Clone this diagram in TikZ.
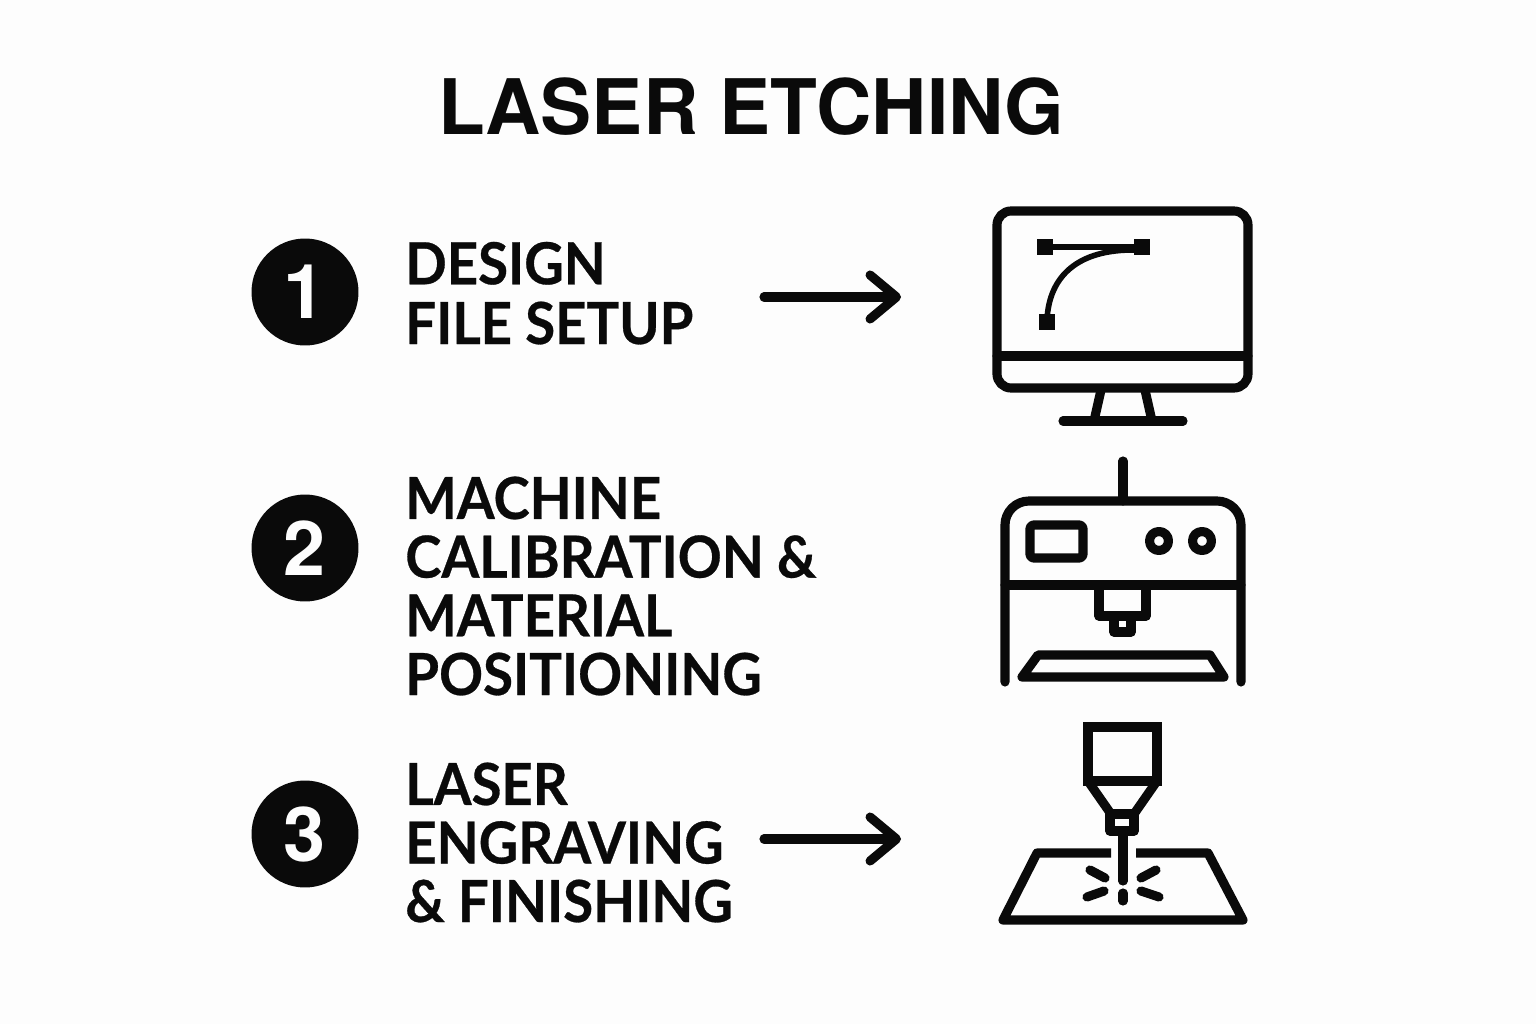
\documentclass[tikz,border=0pt]{standalone}
\usepackage{fontspec}
\setmainfont{TeX Gyre Heros}
\newfontfamily\stepfont[FakeStretch=0.94,FakeBold=0.5]{Lato}
\usetikzlibrary{arrows.meta}
\definecolor{inkblack}{HTML}{0A0A0A}
\definecolor{paper}{HTML}{FDFDFD}
\tikzset{
  stepnum/.style={circle,fill=inkblack,text=paper,minimum size=21.4mm,inner sep=0pt,font=\fontsize{43}{43}\selectfont\bfseries},
  steptext/.style={anchor=base west,align=left,inner sep=0pt,text=inkblack},
  flowarrow/.style={draw=inkblack,line width=5.2pt,line cap=round,-{Straight Barb[length=15pt,width=25pt,line cap=round,round]}},
  icon/.style={draw=inkblack,line width=5.2pt,line join=round,line cap=round},
  thinicon/.style={draw=inkblack,line width=3.2pt,line cap=butt},
  handle/.style={fill=inkblack,draw=none}
}
\begin{document}
\begin{tikzpicture}[x=0.02cm,y=0.02cm]
\useasboundingbox [fill=paper] (0,0) rectangle (1536,-1024);
\node (title) [anchor=base,text=inkblack,inner sep=0pt,font=\fontsize{43.6}{45}\selectfont\bfseries] at (751,-134) {LASER ETCHING};
\node (num1) [stepnum] at (305,-292) {1};
\node (num2) [stepnum] at (305,-548) {2};
\node (num3) [stepnum] at (305,-834) {3};
\node (text1) [steptext,font=\stepfont\fontsize{33}{34}\selectfont\bfseries] at (405,-344) {DESIGN\\FILE SETUP};
\node (text2) [steptext,font=\stepfont\fontsize{33}{33.4}\selectfont\bfseries] at (405,-695) {MACHINE\\CALIBRATION \&\\MATERIAL\\POSITIONING};
\node (text3) [steptext,font=\stepfont\fontsize{33}{33.3}\selectfont\bfseries] at (405,-922) {LASER\\ENGRAVING\\\& FINISHING};
\coordinate (arrow1a) at (764,-297);
\coordinate (arrow1b) at (901,-297);
\coordinate (arrow3a) at (764,-839);
\coordinate (arrow3b) at (901,-839);
\draw [flowarrow] (arrow1a) -- (arrow1b);
\draw [flowarrow] (arrow3a) -- (arrow3b);
% monitor
\draw [icon] (997,-211) [rounded corners=8pt] rectangle (1248,-388);
\draw [icon] (997,-356) -- (1248,-356);
\draw [icon,line cap=butt] (1101,-390) -- (1094,-421);
\draw [icon,line cap=butt] (1145,-390) -- (1152,-421);
\draw [icon] (1063,-421) -- (1183,-421);
\draw [thinicon] (1045,-247) -- (1142,-247);
\draw [thinicon] (1047,-320) .. controls (1049,-276) and (1078,-249) .. (1136,-250);
\fill [handle] (1037,-239) rectangle (1053,-255);
\fill [handle] (1134,-239) rectangle (1150,-255);
\fill [handle] (1039,-314) rectangle (1055,-330);
% machine
\draw [icon] (1005,-682) -- (1005,-525) arc (180:90:24) -- (1217,-501) arc (90:0:24) -- (1241,-682);
\draw [icon] (1123,-461) -- (1123,-501);
\draw [icon] (1005,-585) -- (1241,-585);
\draw [icon] (1030,-525) [rounded corners=2pt] rectangle (1083,-558);
\draw [icon] (1159,-541) circle (9.5);
\draw [icon] (1202,-541) circle (9.5);
\draw [icon] (1099,-585) -- (1099,-616) -- (1146,-616) -- (1146,-585);
\draw [icon] (1114,-616) -- (1114,-632) -- (1131,-632) -- (1131,-616);
\draw [icon] (1038,-655) -- (1210,-655) -- (1224,-677) -- (1022,-677) -- cycle;
% laser head
\draw [icon,line join=miter] (1088,-727) rectangle (1157,-781);
\draw [icon] (1088,-781) -- (1111,-814);
\draw [icon] (1157,-781) -- (1134,-814);
\draw [icon] (1110,-814) -- (1134,-814) -- (1134,-831) -- (1110,-831) -- cycle;
\draw [icon] (1123,-831) -- (1123,-881);
\draw [icon] (1123,-893) -- (1123,-901);
\draw [icon] (1090,-870) -- (1105,-878);
\draw [icon] (1156,-870) -- (1141,-878);
\draw [icon] (1087,-897) -- (1104,-891);
\draw [icon] (1159,-897) -- (1141,-891);
\draw [icon,line cap=butt] (1111,-853) -- (1037,-853) -- (1003,-920) -- (1243,-920) -- (1208,-853) -- (1136,-853);
\end{tikzpicture}
\end{document}
